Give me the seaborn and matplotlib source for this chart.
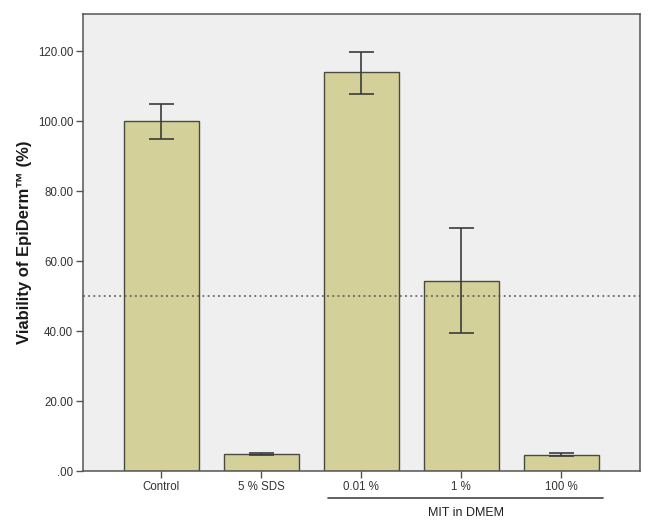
import matplotlib
matplotlib.use("Agg")
import matplotlib.pyplot as plt
import matplotlib.ticker as mticker
import matplotlib.transforms as mtransforms
import seaborn as sns
import pandas as pd

categories = ["Control", "5 % SDS", "0.01 %", "1 %", "100 %"]
means = [100.0, 4.8, 113.9, 54.4, 4.7]
err_low = [95.0, 4.6, 107.8, 39.3, 4.3]
err_high = [104.8, 5.1, 119.7, 69.4, 5.1]
yticks = [0, 20, 40, 60, 80, 100, 120]
group_label = "MIT in DMEM"
group_members = ["0.01 %", "1 %", "100 %"]
ref_value = 50

sns.set_theme(style="white")
plt.rcParams["font.family"] = ["Liberation Sans", "DejaVu Sans"]

df = pd.DataFrame({"group": categories, "viability": means})

fig = plt.figure(figsize=(6.54, 5.31), dpi=100)
ax = fig.add_axes([83/654, 60/531, (640-83)/654, (471-14)/531])
ax.set_facecolor("#efefef")

sns.barplot(data=df, x="group", y="viability", order=categories, color="#d3d099",
            saturation=1, edgecolor="#4a4a40", linewidth=1.0, width=0.75,
            errorbar=None, ax=ax)

xs = list(range(len(categories)))
lower = [m - l for m, l in zip(means, err_low)]
upper = [h - m for m, h in zip(means, err_high)]
ax.errorbar(xs, means, yerr=[lower, upper], fmt="none", ecolor="#3c3c3c",
            elinewidth=1.2, capsize=9, capthick=1.2, zorder=5)

ax.axhline(ref_value, color="#505050", lw=1.1, ls=(0, (1.2, 2.2)), zorder=6)

ax.set_xlim(-0.78, 4.79)
ax.set_ylim(0, 130.6)
ax.set_yticks(yticks)
ax.yaxis.set_major_formatter(mticker.FuncFormatter(lambda v, p: ".00" if v == 0 else f"{v:.2f}"))
ax.tick_params(axis="both", which="major", direction="out", length=5, width=1,
               color="#555555", labelsize=8.3, labelcolor="#333333", pad=2,
               bottom=True, left=True)
ax.tick_params(axis="x", pad=2)
for s in ax.spines.values():
    s.set_color("#555555")
    s.set_linewidth(1.1)

ax.set_xlabel("")
ax.set_ylabel("Viability of EpiDerm\u2122 (%)", fontsize=12, fontweight="bold",
              color="#1a1a1a", labelpad=4)

# group bracket line under the MIT categories
trans = mtransforms.blended_transform_factory(ax.transData, ax.transAxes)
i0 = categories.index(group_members[0])
i1 = categories.index(group_members[-1])
ax.plot([i0 - 0.33, i1 + 0.42], [-0.059, -0.059], transform=trans, color="#444444",
        lw=1.2, clip_on=False)
ax.text((i0 - 0.33 + i1 + 0.42) / 2, -0.092, group_label, transform=trans,
        ha="center", va="center", fontsize=9, color="#222222")

fig.savefig("out.png", dpi=100, facecolor="white")
